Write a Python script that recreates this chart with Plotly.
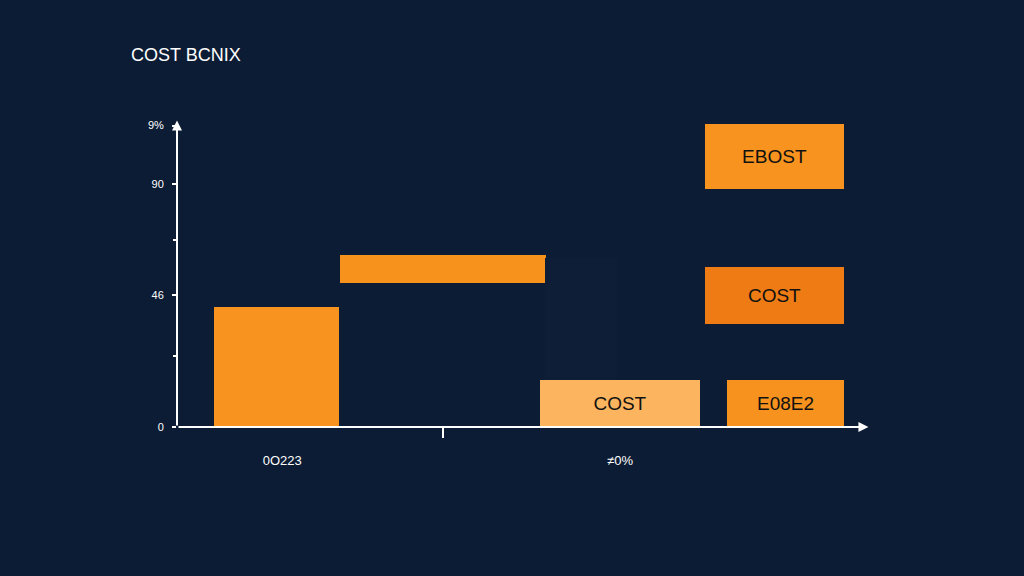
import plotly.graph_objects as go

# ---- data (chart units) ----
bar_labels = ["", "", "", "COST", "E08E2", "COST", "EBOST"]
x_start = [5.4, 23.7, 53.5, 52.7, 79.9, 76.7, 76.7]
x_end = [23.6, 53.6, 64.0, 76.0, 96.9, 96.9, 96.9]
y_low = [0.0, 57.2, 10.4, 0.0, 0.0, 41.2, 94.8]
y_high = [47.6, 68.4, 67.2, 18.8, 18.8, 63.6, 120.8]
bar_colors = ["#F7931E", "#F7921D", "#0E1E37", "#FDB45E", "#F7921E", "#EE7B14", "#F7931E"]

y_tick_vals = [0, 52.4, 96.8, 120]
y_tick_text = ["0", "46", "90", "9%"]
y_minor_vals = [28.4, 74.4]
x_tick_vals = [15.3, 64.4]
x_tick_text = ["0O223", "≠0%"]
x_minor_vals = [38.7]

title_text = "COST BCNIX"

BG = "#0C1C34"

centers = [(a + b) / 2 for a, b in zip(x_start, x_end)]
widths = [b - a for a, b in zip(x_start, x_end)]
heights = [h - l for l, h in zip(y_low, y_high)]

fig = go.Figure()
fig.add_trace(go.Bar(
    x=centers, y=heights, base=y_low, width=widths,
    marker=dict(color=bar_colors, line=dict(width=0)),
    text=bar_labels, textposition="inside", insidetextanchor="middle",
    textangle=0, textfont=dict(color="#111111", size=19, family="Liberation Sans, Arial"),
    hoverinfo="skip", showlegend=False,
))

fig.update_layout(
    width=1024, height=576,
    paper_bgcolor=BG, plot_bgcolor=BG,
    margin=dict(l=177, r=159, t=113, b=149),
    title=dict(text=title_text, x=131 / 1024, xanchor="left", y=1 - 55 / 576, yanchor="middle",
               font=dict(color="white", size=18, family="Liberation Sans, Arial")),
    font=dict(family="Liberation Sans, Arial", color="white"),
    bargap=0,
)
fig.update_xaxes(
    range=[0, 100], showgrid=False, zeroline=False, showline=False,
    tickvals=x_tick_vals, ticktext=x_tick_text, ticks="", ticklabelstandoff=24,
    tickfont=dict(size=13, color="white"),
    minor=dict(tickvals=x_minor_vals, ticks="outside", ticklen=10, tickwidth=2, tickcolor="white"),
)
fig.update_yaxes(
    range=[0, 125], showgrid=False, zeroline=False, showline=False,
    tickvals=y_tick_vals, ticktext=y_tick_text, ticks="outside", ticklen=4, tickwidth=2,
    tickcolor="white", tickfont=dict(size=11, color="white"), ticklabelstandoff=6,
    minor=dict(tickvals=y_minor_vals, ticks="outside", ticklen=3, tickwidth=2, tickcolor="white"),
)
# axis arrows
fig.add_annotation(x=0, y=122, ax=0, ay=0, xref="x", yref="y", axref="x", ayref="y",
                   showarrow=True, arrowhead=2, arrowsize=1, arrowwidth=2, arrowcolor="white", text="")
fig.add_annotation(x=100.5, y=0, ax=0, ay=0, xref="x", yref="y", axref="x", ayref="y",
                   showarrow=True, arrowhead=2, arrowsize=1, arrowwidth=2, arrowcolor="white", text="")

fig.write_html("out.html", config={"displayModeBar": False},
               post_script="document.body.style.margin='0';document.body.style.overflow='hidden';")
